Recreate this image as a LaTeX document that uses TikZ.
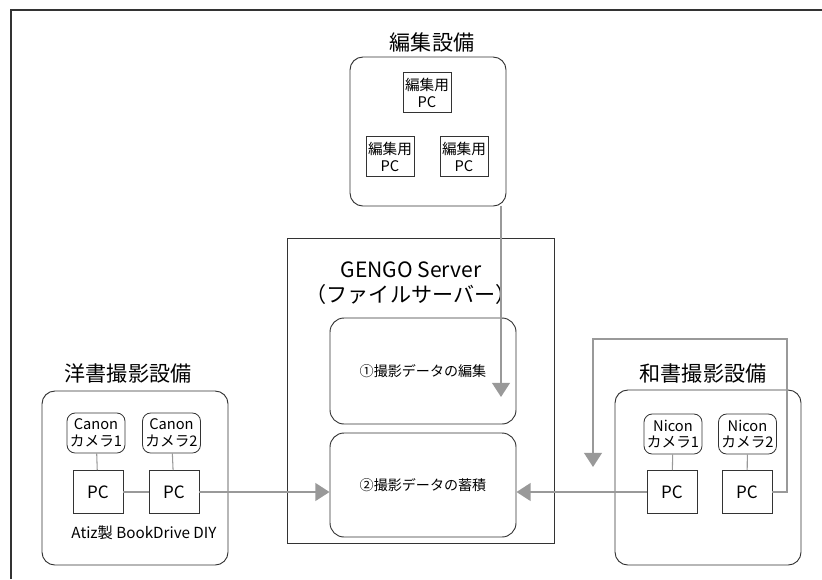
\documentclass[tikz,border=0pt]{standalone}
\usepackage{fontspec}
\setmainfont{Noto Sans CJK JP}
\usetikzlibrary{arrows.meta}
\definecolor{boxline}{HTML}{333333}
\definecolor{wire}{HTML}{999999}

\begin{document}
\begin{tikzpicture}[x=0.03cm,y=-0.03cm,
  group/.style={draw=boxline,line width=0.8pt,rounded corners=11pt},
  srv/.style={draw=boxline,line width=0.7pt},
  unit/.style={draw=boxline,line width=0.7pt,inner sep=0pt,align=center,font=\fontsize{12.5}{14.5}\selectfont},
  cam/.style={unit,rounded corners=7pt,minimum width=1.74cm,minimum height=1.2cm,font=\fontsize{12.5}{14}\selectfont},
  pcbox/.style={unit,minimum width=1.5cm,minimum height=1.29cm,font=\fontsize{14.5}{16}\selectfont},
  title/.style={font=\fontsize{18}{21}\selectfont},
  flow/.style={draw=wire,line width=1.8pt,-{Triangle[length=12pt,width=15pt]}},
  link/.style={draw=wire,line width=0.9pt}]
\useasboundingbox (0,0) rectangle (822,579);
\draw[boxline,line width=1pt](11,579)--(11,10)--(822,10);
%----------------編集設備----------
\node[title] (edtitle) at (432,42){編集設備};
\node[group,minimum width=4.68cm,minimum height=4.47cm] (edit) at (428,131.5){};
\node[unit,minimum width=1.44cm,minimum height=1.2cm] (epc1) at (427,92.5){編集用\\PC};
\node[unit,minimum width=1.44cm,minimum height=1.2cm] (epc2) at (390,156.5){編集用\\PC};
\node[unit,minimum width=1.44cm,minimum height=1.2cm] (epc3) at (464,156.5){編集用\\PC};
%----------------GENGO Server----------
\node[srv,minimum width=8.01cm,minimum height=9.15cm] (server) at (420.5,390.5){};
\node[title,align=center] (srvtitle) at (411,283){GENGO Server\\（ファイルサーバー）};
\node[group,rounded corners=12pt,minimum width=5.58cm,minimum height=3.18cm,font=\fontsize{12}{14}\selectfont] (edt) at (423,371){①撮影データの編集};
\node[group,rounded corners=12pt,minimum width=5.58cm,minimum height=3.12cm,font=\fontsize{12}{14}\selectfont] (store) at (423,485){②撮影データの蓄積};
%----------------洋書撮影設備----------
\node[title] (ytitle) at (128,373){洋書撮影設備};
\node[group,minimum width=5.58cm,minimum height=5.22cm] (yosho) at (135,478){};
\node[cam] (ycam1) at (96,433){Canon\\カメラ1};
\node[cam] (ycam2) at (171.5,433){Canon\\カメラ2};
\node[pcbox] (ypc1) at (98,492){PC};
\node[pcbox] (ypc2) at (174,492){PC};
\node[font=\fontsize{13}{15}\selectfont] (atiz) at (144,533){Atiz製 BookDrive DIY};
%----------------和書撮影設備----------
\node[title] (wtitle) at (703,373){和書撮影設備};
\node[group,minimum width=5.58cm,minimum height=5.25cm] (washo) at (708,477.5){};
\node[cam] (wcam1) at (673,434){Nicon\\カメラ1};
\node[cam] (wcam2) at (747.5,434){Nicon\\カメラ2};
\node[pcbox] (wpc1) at (672,492){PC};
\node[pcbox] (wpc2) at (747,492){PC};
%----------------接続----------
\draw[link](ycam1)--(ypc1);
\draw[link](ycam2)--(ypc2);
\draw[link](ypc1)--(ypc2);
\draw[link](wcam1)--(wpc1);
\draw[link](wcam2)--(wpc2);
\coordinate (edown) at (501,397);
\coordinate (wback) at (593,467);
\draw[flow](edit.south east-|edown)--(edown);
\draw[flow](ypc2.east)--(ypc2.east-|store.west);
\draw[flow](wpc1.west)--(wpc1.west-|store.east);
\draw[flow](wpc2.east)-|(787,339)-|(wback);
\end{tikzpicture}
\end{document}
